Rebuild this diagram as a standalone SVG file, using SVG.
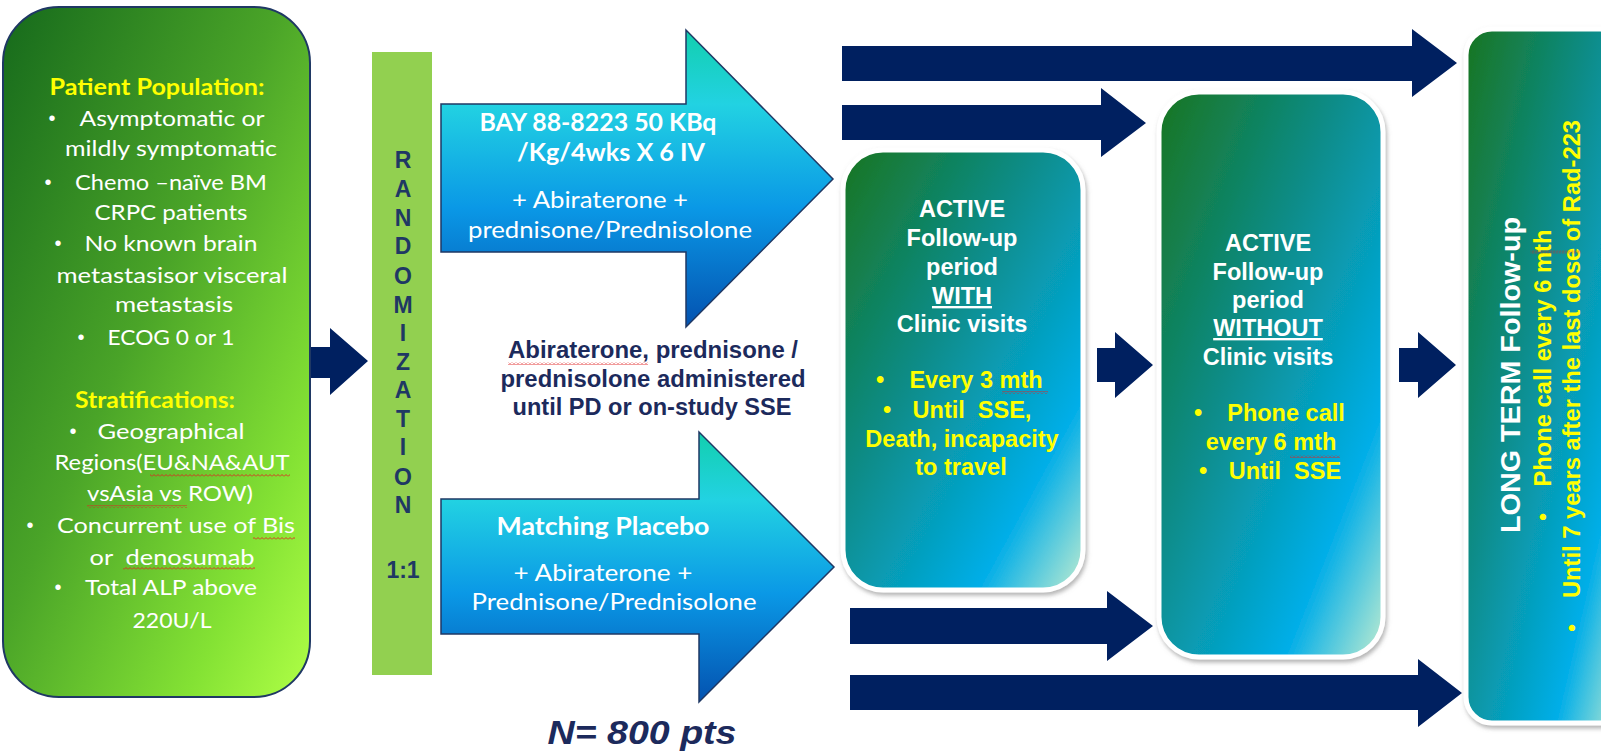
<svg xmlns="http://www.w3.org/2000/svg" width="1601" height="751" viewBox="0 0 1601 751">
<defs>
  <linearGradient id="gLeft" x1="0" y1="0" x2="1" y2="1">
    <stop offset="0" stop-color="#166a1c"/>
    <stop offset="0.45" stop-color="#4aa428"/>
    <stop offset="0.8" stop-color="#84e234"/>
    <stop offset="1" stop-color="#b0ff46"/>
  </linearGradient>
  <linearGradient id="gBlue" x1="0" y1="0" x2="0" y2="1">
    <stop offset="0" stop-color="#12cfae"/>
    <stop offset="0.25" stop-color="#22d2e2"/>
    <stop offset="0.6" stop-color="#0a98e6"/>
    <stop offset="1" stop-color="#0452b0"/>
  </linearGradient>
  <linearGradient id="gTeal" x1="0" y1="0" x2="1" y2="1">
    <stop offset="0" stop-color="#197520"/>
    <stop offset="0.4" stop-color="#0b8c88"/>
    <stop offset="0.78" stop-color="#02aee8"/>
    <stop offset="1" stop-color="#c0ecd0"/>
  </linearGradient>
  <pattern id="squig" width="4" height="3" patternUnits="userSpaceOnUse">
    <path d="M0,2.5 L2,0.5 L4,2.5" fill="none" stroke="#e02020" stroke-width="0.9"/>
  </pattern>
  <filter id="shadow" x="-10%" y="-10%" width="130%" height="130%">
    <feDropShadow dx="1.5" dy="3" stdDeviation="2" flood-color="#777" flood-opacity="0.55"/>
  </filter>
</defs>
<style>
  .lt { font-family: Lato, "Open Sans", sans-serif; font-size: 22px; fill: #ffffff; text-anchor: middle; }
  .ltb { font-family: Lato, "Open Sans", sans-serif; font-size: 22px; font-weight: bold; fill: #ffff00; text-anchor: middle; }
  .bul { font-family: "Liberation Sans", sans-serif; font-size: 20px; fill: #ffffff; text-anchor: middle; }
  .ar { font-family: Lato, "Open Sans", sans-serif; font-size: 24px; fill: #ffffff; text-anchor: middle; }
  .arb { font-family: Lato, "Open Sans", sans-serif; font-size: 24px; font-weight: bold; fill: #ffffff; text-anchor: middle; }
  .bx { font-family: "Liberation Sans", Arial, sans-serif; font-size: 23.5px; font-weight: bold; fill: #ffffff; text-anchor: middle; }
  .by { font-family: "Liberation Sans", Arial, sans-serif; font-size: 23.5px; font-weight: bold; fill: #ffff00; text-anchor: middle; }
  .rnd { font-family: "Liberation Sans", Arial, sans-serif; font-size: 23px; font-weight: bold; fill: #1f3864; text-anchor: middle; }
  .mid { font-family: "Liberation Sans", Arial, sans-serif; font-size: 23px; font-weight: bold; fill: #1c2a5c; text-anchor: middle; }
  .navy { fill: #002060; }
  .box { fill: url(#gTeal); stroke: #ffffff; stroke-width: 5; filter: url(#shadow); }
</style>

<g id="connectors">
  <polygon class="navy" points="308,347 330,347 330,328 368,361 330,395 330,378 308,378"/>
  <polygon class="navy" points="842,46 1412,46 1412,29 1457,63 1412,97 1412,81 842,81"/>
  <polygon class="navy" points="842,105 1101,105 1101,88 1146,123 1101,157 1101,140 842,140"/>
  <polygon class="navy" points="1097,348 1115,348 1115,332 1153,365 1115,398 1115,382 1097,382"/>
  <polygon class="navy" points="1399,348 1418,348 1418,332 1456,365 1418,398 1418,382 1399,382"/>
  <polygon class="navy" points="850,608 1107,608 1107,591 1153,626 1107,661 1107,644 850,644"/>
  <polygon class="navy" points="850,675 1418,675 1418,659 1462,693 1418,727 1418,710 850,710"/>
</g>

<g id="population">
  <rect x="3" y="7" width="307" height="690" rx="56" ry="56" fill="url(#gLeft)" stroke="#1f3864" stroke-width="2"/>
  <text class="ltb" x="157" y="95" textLength="215" lengthAdjust="spacingAndGlyphs">Patient Population:</text>
  <text class="bul" x="52" y="125">•</text>
  <text class="lt" x="172" y="126" textLength="185" lengthAdjust="spacingAndGlyphs">Asymptomatic or</text>
  <text class="lt" x="171" y="156" textLength="212" lengthAdjust="spacingAndGlyphs">mildly symptomatic</text>
  <text class="bul" x="48" y="189">•</text>
  <text class="lt" x="171" y="190" textLength="192" lengthAdjust="spacingAndGlyphs">Chemo –naïve BM</text>
  <text class="lt" x="171" y="220" textLength="153" lengthAdjust="spacingAndGlyphs">CRPC patients</text>
  <text class="bul" x="58" y="250">•</text>
  <text class="lt" x="171" y="251" textLength="173" lengthAdjust="spacingAndGlyphs">No known brain</text>
  <text class="lt" x="172" y="283" textLength="231" lengthAdjust="spacingAndGlyphs">metastasisor visceral</text>
  <text class="lt" x="174" y="312" textLength="118" lengthAdjust="spacingAndGlyphs">metastasis</text>
  <text class="bul" x="81" y="344">•</text>
  <text class="lt" x="171" y="345" textLength="127" lengthAdjust="spacingAndGlyphs">ECOG 0 or 1</text>
  <text class="ltb" x="155" y="408" textLength="160" lengthAdjust="spacingAndGlyphs">Stratifications:</text>
  <text class="bul" x="73" y="438">•</text>
  <text class="lt" x="171" y="439" textLength="147" lengthAdjust="spacingAndGlyphs">Geographical</text>
  <text class="lt" x="172" y="470" textLength="235" lengthAdjust="spacingAndGlyphs">Regions(EU&amp;NA&amp;AUT</text>
  <text class="lt" x="170" y="501" textLength="166" lengthAdjust="spacingAndGlyphs">vsAsia vs ROW)</text>
  <text class="bul" x="30" y="532">•</text>
  <text class="lt" x="176" y="533" textLength="238" lengthAdjust="spacingAndGlyphs">Concurrent use of Bis</text>
  <text class="lt" x="172" y="565" textLength="165" lengthAdjust="spacingAndGlyphs" xml:space="preserve">or  denosumab</text>
  <text class="bul" x="58" y="594">•</text>
  <text class="lt" x="171" y="595" textLength="172" lengthAdjust="spacingAndGlyphs">Total ALP above</text>
  <text class="lt" x="172" y="628" textLength="79" lengthAdjust="spacingAndGlyphs">220U/L</text>
  <rect x="150" y="474" width="140" height="3" fill="url(#squig)"/>
  <rect x="87" y="505" width="100" height="3" fill="url(#squig)"/>
  <rect x="253" y="537" width="42" height="3" fill="url(#squig)"/>
  <rect x="123" y="567" width="132" height="3" fill="url(#squig)"/>
</g>

<g id="randomization">
  <rect x="372" y="52" width="60" height="623" fill="#92d050"/>
  <text class="rnd" x="403" y="168">R</text>
  <text class="rnd" x="403" y="197">A</text>
  <text class="rnd" x="403" y="226">N</text>
  <text class="rnd" x="403" y="254">D</text>
  <text class="rnd" x="403" y="284">O</text>
  <text class="rnd" x="403" y="313">M</text>
  <text class="rnd" x="403" y="341">I</text>
  <text class="rnd" x="403" y="370">Z</text>
  <text class="rnd" x="403" y="398">A</text>
  <text class="rnd" x="403" y="427">T</text>
  <text class="rnd" x="403" y="455">I</text>
  <text class="rnd" x="403" y="485">O</text>
  <text class="rnd" x="403" y="513">N</text>
  <text class="rnd" x="403" y="578">1:1</text>
</g>

<g id="arm-active">
  <polygon points="441,104 686,104 686,30 833,179 686,327 686,252 441,252" fill="url(#gBlue)" stroke="#1f3864" stroke-width="1.5"/>
  <text class="arb" x="598" y="131" textLength="237" lengthAdjust="spacingAndGlyphs">BAY 88-8223 50 KBq</text>
  <text class="arb" x="611" y="161" textLength="188" lengthAdjust="spacingAndGlyphs">/Kg/4wks X 6 IV</text>
  <text class="ar" x="600" y="208" textLength="176" lengthAdjust="spacingAndGlyphs">+ Abiraterone +</text>
  <text class="ar" x="610" y="238" textLength="284" lengthAdjust="spacingAndGlyphs">prednisone/Prednisolone</text>
</g>

<g id="arm-note">
  <text class="mid" x="653" y="358" textLength="290" lengthAdjust="spacingAndGlyphs">Abiraterone, prednisone /</text>
  <text class="mid" x="653" y="387" textLength="305" lengthAdjust="spacingAndGlyphs">prednisolone administered</text>
  <text class="mid" x="652" y="415" textLength="279" lengthAdjust="spacingAndGlyphs">until PD or on-study SSE</text>
  <rect x="508" y="362" width="140" height="3" fill="url(#squig)"/>
</g>

<g id="arm-placebo">
  <polygon points="441,499 699,499 699,432 834,567 699,702 699,634 441,634" fill="url(#gBlue)" stroke="#1f3864" stroke-width="1.5"/>
  <text class="arb" x="603" y="535" textLength="213" lengthAdjust="spacingAndGlyphs">Matching Placebo</text>
  <text class="ar" x="603" y="581" textLength="179" lengthAdjust="spacingAndGlyphs">+ Abiraterone +</text>
  <text class="ar" x="614" y="610" textLength="285" lengthAdjust="spacingAndGlyphs">Prednisone/Prednisolone</text>
</g>

<g id="n-label">
  <text x="642" y="744" text-anchor="middle" font-family="'Liberation Sans', Arial, sans-serif" font-size="34" font-weight="bold" font-style="italic" fill="#1c2a5c" textLength="189" lengthAdjust="spacingAndGlyphs">N= 800 pts</text>
</g>

<g id="followup-with">
  <rect class="box" x="843" y="150" width="240" height="440" rx="40" ry="40"/>
  <text class="bx" x="962" y="217">ACTIVE</text>
  <text class="bx" x="962" y="246">Follow-up</text>
  <text class="bx" x="962" y="275">period</text>
  <text class="bx" x="962" y="304" text-decoration="underline">WITH</text>
  <text class="bx" x="962" y="332">Clinic visits</text>
  <text class="by" x="880" y="388">•</text>
  <text class="by" x="976" y="388">Every 3 mth</text>
  <text class="by" x="887" y="418">•</text>
  <text class="by" x="972" y="418" xml:space="preserve">Until  SSE,</text>
  <text class="by" x="962" y="447">Death, incapacity</text>
  <text class="by" x="961" y="475">to travel</text>
  <rect x="1002" y="391" width="46" height="3" fill="url(#squig)"/>
</g>

<g id="followup-without">
  <rect class="box" x="1159" y="92" width="224" height="565" rx="40" ry="40"/>
  <text class="bx" x="1268" y="251">ACTIVE</text>
  <text class="bx" x="1268" y="280">Follow-up</text>
  <text class="bx" x="1268" y="308">period</text>
  <text class="bx" x="1268" y="336" text-decoration="underline">WITHOUT</text>
  <text class="bx" x="1268" y="365">Clinic visits</text>
  <text class="by" x="1198" y="421">•</text>
  <text class="by" x="1286" y="421">Phone call</text>
  <text class="by" x="1271" y="450">every 6 mth</text>
  <text class="by" x="1203" y="479">•</text>
  <text class="by" x="1285" y="479" xml:space="preserve">Until  SSE</text>
  <rect x="1290" y="455" width="50" height="3" fill="url(#squig)"/>
</g>

<g id="long-term">
  <rect class="box" x="1466" y="29" width="160" height="694" rx="26" ry="26"/>
  <text transform="translate(1520,375) rotate(-90)" x="0" y="0" text-anchor="middle" font-family="'Liberation Sans', Arial, sans-serif" font-size="27" font-weight="bold" fill="#ffffff" textLength="316" lengthAdjust="spacingAndGlyphs">LONG TERM Follow-up</text>
  <text transform="translate(1550,517) rotate(-90)" x="0" y="0" text-anchor="middle" class="by" style="font-size:22px">•</text>
  <text transform="translate(1551,358) rotate(-90)" x="0" y="0" class="by" style="font-size:23px" textLength="257" lengthAdjust="spacingAndGlyphs">Phone call every 6 mth</text>
  <text transform="translate(1579,628) rotate(-90)" x="0" y="0" text-anchor="middle" class="by" style="font-size:22px">•</text>
  <text transform="translate(1580,359) rotate(-90)" x="0" y="0" class="by" style="font-size:23px" textLength="478" lengthAdjust="spacingAndGlyphs">Until 7 years after the last dose of Rad-223</text>
  <rect x="1554" y="227" width="3" height="50" fill="url(#squig)" transform="rotate(90 1555.5 252)"/>
</g>
</svg>
